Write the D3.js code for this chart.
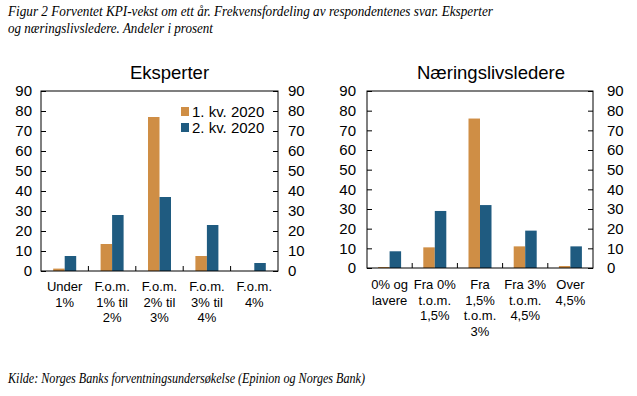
<!DOCTYPE html>
<html><head><meta charset="utf-8">
<script src="https://cdn.jsdelivr.net/npm/d3@7"></script>
<style>body{margin:0;background:#fff}svg{display:block}</style>
</head><body><svg id="c" width="637" height="396"></svg>
<script>
const captionLines = ["Figur 2 Forventet KPI-vekst om ett år. Frekvensfordeling av respondentenes svar. Eksperter", "og næringslivsledere. Andeler i prosent"];
const sourceText = "Kilde: Norges Banks forventningsundersøkelse (Epinion og Norges Bank)";
const seriesNames = ["1. kv. 2020", "2. kv. 2020"];
const seriesColors = ["#CF8E45", "#1F5B80"];
const yTicks = [0, 10, 20, 30, 40, 50, 60, 70, 80, 90];

const expTitle = "Eksperter";
const expCategories = [["Under", "1%"], ["F.o.m.", "1% til", "2%"], ["F.o.m.", "2% til", "3%"], ["F.o.m.", "3% til", "4%"], ["F.o.m.", "4%"]];
const expQ1 = [1.2, 13.5, 77, 7.5, 0];
const expQ2 = [7.5, 28, 37, 23, 4];

const bizTitle = "Næringslivsledere";
const bizCategories = [["0% og", "lavere"], ["Fra 0%", "t.o.m.", "1,5%"], ["Fra", "1,5%", "t.o.m.", "3%"], ["Fra 3%", "t.o.m.", "4,5%"], ["Over", "4,5%"]];
const bizQ1 = [0.5, 10.5, 76, 11, 1];
const bizQ2 = [8.5, 29, 32, 19, 11];

const svg = d3.select("#c");
const sans = "'Liberation Sans', Arial, sans-serif";
const serif = "'Liberation Serif', 'Times New Roman', serif";

const capWidths = [485, 205];
svg.append("g").selectAll("text").data(captionLines).join("text")
  .attr("x", 8).attr("y", (d, i) => 16 + i * 16.5)
  .attr("font-family", serif).attr("font-style", "italic").attr("font-size", 14)
  .attr("textLength", (d, i) => capWidths[i]).attr("lengthAdjust", "spacingAndGlyphs")
  .text(d => d);
svg.append("text").attr("x", 8).attr("y", 383)
  .attr("font-family", serif).attr("font-style", "italic").attr("font-size", 14)
  .attr("textLength", 357).attr("lengthAdjust", "spacingAndGlyphs")
  .text(sourceText);

function panel(cfg) {
  const g = svg.append("g");
  const x = d3.scaleBand().domain(d3.range(cfg.cats.length)).range([cfg.x0, cfg.x1]).paddingInner(0).paddingOuter(0);
  const y = d3.scaleLinear().domain([0, 90]).range([cfg.y1, cfg.y0]);
  const bw = 11.5;
  const series = [cfg.q1, cfg.q2];
  series.forEach((vals, s) => {
    g.append("g").selectAll("rect").data(vals).join("rect")
      .attr("x", (d, i) => x(i) + x.bandwidth() / 2 - bw + s * bw)
      .attr("width", bw)
      .attr("y", d => y(d))
      .attr("height", d => y(0) - y(d))
      .attr("fill", seriesColors[s]);
  });
  g.append("rect").attr("x", cfg.x0).attr("y", cfg.y0).attr("width", cfg.x1 - cfg.x0).attr("height", cfg.y1 - cfg.y0)
    .attr("fill", "none").attr("stroke", "#000").attr("stroke-width", 1);
  const left = d3.axisLeft(y).tickValues(yTicks).tickSizeInner(-5).tickSizeOuter(0).tickPadding(cfg.padL);
  const right = d3.axisRight(y).tickValues(yTicks).tickSizeInner(-5).tickSizeOuter(0).tickPadding(cfg.padR);
  [[left, cfg.x0], [right, cfg.x1]].forEach(([ax, xp]) => {
    const a = g.append("g").attr("transform", `translate(${xp},0)`).call(ax);
    a.select(".domain").remove();
    a.selectAll("line").attr("stroke", "#000");
    a.selectAll("text").attr("font-family", sans).attr("font-size", 15).attr("fill", "#000");
  });
  g.append("g").selectAll("line").data(d3.range(1, cfg.cats.length)).join("line")
    .attr("x1", i => x(i)).attr("x2", i => x(i)).attr("y1", cfg.y1).attr("y2", cfg.y1 - 5).attr("stroke", "#000");
  const cl = g.append("g").selectAll("text").data(cfg.cats).join("text")
    .attr("font-family", sans).attr("font-size", 13).attr("text-anchor", "middle");
  cl.each(function(lines, i) {
    d3.select(this).selectAll("tspan").data(lines).join("tspan")
      .attr("x", x(i) + x.bandwidth() / 2).attr("y", (d, j) => cfg.labY + j * 15.5).text(d => d);
  });
  g.append("text").attr("x", (cfg.x0 + cfg.x1) / 2 + cfg.titleDx).attr("y", 79)
    .attr("text-anchor", "middle").attr("font-family", sans).attr("font-size", 18.5).text(cfg.title);
  return {x, y};
}

panel({x0: 41, x1: 278, y0: 91, y1: 271, cats: expCategories, q1: expQ1, q2: expQ2, title: expTitle, padL: 9, padR: 10, labY: 291, titleDx: 10});
panel({x0: 367, x1: 593, y0: 91, y1: 268, cats: bizCategories, q1: bizQ1, q2: bizQ2, title: bizTitle, padL: 11, padR: 14, labY: 289, titleDx: 11});

const lg = svg.append("g").selectAll("g").data(seriesNames).join("g")
  .attr("transform", (d, i) => `translate(181,${107 + i * 16})`);
lg.append("rect").attr("width", 8).attr("height", 9).attr("fill", (d, i) => seriesColors[i]);
lg.append("text").attr("x", 11).attr("y", 9.5).attr("font-family", sans).attr("font-size", 15).text(d => d);
</script></body></html>
